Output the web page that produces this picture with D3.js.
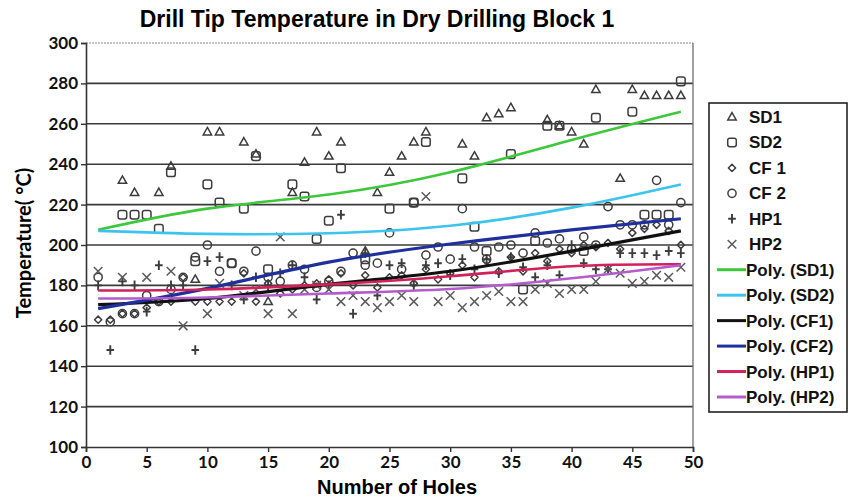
<!DOCTYPE html>
<html><head><meta charset="utf-8">
<script src="https://cdn.jsdelivr.net/npm/d3@7"></script>
<style>body{margin:0;background:#fff}svg{display:block}</style>
</head><body><svg id="c" width="849" height="499"></svg>
<script>
const holes = d3.range(1, 50);
const SD1 = [null,null,232,226,null,226,239,null,183,256,256,null,251,245,172,null,226,241,256,244,251,null,197,226,236,244,251,256,null,null,250,244,263,265,268,null,null,262,259,256,250,277,null,233,277,274,274,274,274];
const SD2 = [null,null,215,215,215,208,236,null,192,230,221,191,218,244,188,null,230,224,203,212,238,null,193,null,218,null,221,251,null,null,233,209,197,null,245,178,202,259,259,null,197,263,null,null,266,215,215,215,281];
const CF1 = [163,163,166,166,169,172,172,184,172,172,172,172,186,172,181,176,178,180,181,183,186,180,185,179,184,185,181,188,183,186,190,184,192,187,194,187,196,192,198,196,200,199,201,198,206,208,210,207,200];
const CF2 = [184,162,166,166,175,172,178,184,194,200,187,191,187,197,184,182,190,188,179,182,187,196,190,191,206,188,221,195,199,193,218,199,193,199,200,196,206,201,203,198,204,200,219,210,210,210,232,210,221];
const HP1 = [180,148,182,180,167,190,180,180,148,192,194,180,173,184,180,186,190,184,173,180,215,166,196,175,190,191,180,190,191,185,193,188,193,186,194,189,184,190,185,200,191,188,188,196,196,196,195,197,196];
const HP2 = [187,null,184,null,184,null,187,160,null,166,181,null,175,178,166,204,166,178,180,178,172,175,172,169,172,175,172,224,172,175,169,172,175,177,172,172,178,181,176,178,178,182,188,186,181,182,185,184,189];
const trendX = [1, 10, 20, 30, 40, 49];
const trendSD1 = [207.5, 218, 225, 236, 252, 266];
const trendSD2 = [207, 205.5, 205.8, 209.5, 218.5, 230];
const trendCF1 = [170.5, 173.5, 180.5, 187, 197, 207];
const trendCF2 = [168.5, 178.5, 191.5, 200.5, 207.5, 213];
const trendHP1 = [177.5, 178, 180.5, 184.5, 189.5, 190.5];
const trendHP2 = [173.5, 174, 176, 178.2, 183.5, 190];
const legendLabels = ["SD1","SD2","CF 1","CF 2","HP1","HP2"];
const trendLabels = ["Poly. (SD1)","Poly. (SD2)","Poly. (CF1)","Poly. (CF2)","Poly. (HP1)","Poly. (HP2)"];
const yTicks = [100,120,140,160,180,200,220,240,260,280,300];
const xTicks = [0,5,10,15,20,25,30,35,40,45,50];

const svg = d3.select("#c");
const x = d3.scaleLinear().domain([0,50]).range([86,693]);
const y = d3.scaleLinear().domain([100,300]).range([447,43]);

const seriesData = [SD1,SD2,CF1,CF2,HP1,HP2];
const trendData = [trendSD1,trendSD2,trendCF1,trendCF2,trendHP1,trendHP2];
const trendColors = ["#3cc83a","#3cc4ee","#111111","#1f2f9c","#d2205a","#b45ccc"];
const shapes = ["tri","sq","dia","circ","plus","x"];

// gridlines
svg.append("g").selectAll("line").data(yTicks.filter(t=>t>100)).join("line")
  .attr("x1",x(0)).attr("x2",x(50)).attr("y1",d=>y(d)).attr("y2",d=>y(d))
  .attr("stroke",d=>d===300?"#888":"#3a3a3a").attr("stroke-width",d=>d===300?1.2:1.6)
  .attr("stroke-dasharray",d=>d===300?"2,1":null);
svg.append("line").attr("x1",x(50)).attr("x2",x(50)).attr("y1",y(300)).attr("y2",y(100))
  .attr("stroke","#777").attr("stroke-width",1.4);

// axes
const yAxis = svg.append("g").attr("transform",`translate(${x(0)},0)`)
  .call(d3.axisLeft(y).tickValues(yTicks).tickSize(5).tickPadding(3));
const xAxis = svg.append("g").attr("transform",`translate(0,${y(100)})`)
  .call(d3.axisBottom(x).tickValues(xTicks).tickSize(5).tickPadding(4));
[yAxis,xAxis].forEach(a=>{
  a.select(".domain").attr("stroke","#333").attr("stroke-width",1.6);
  a.selectAll(".tick line").attr("stroke","#333").attr("stroke-width",1.4);
  a.selectAll("text").attr("font-family","Lato, 'Open Sans', sans-serif").attr("font-weight","bold")
   .attr("font-size",17).attr("fill","#111");
});

function drawMarker(g, shape, cx, cy) {
  let el;
  if (shape==="tri") el = g.append("path").attr("d",`M${cx},${cy-4.4}L${cx+4.2},${cy+3}L${cx-4.2},${cy+3}Z`);
  else if (shape==="sq") el = g.append("rect").attr("x",cx-4.3).attr("y",cy-4.3).attr("width",8.6).attr("height",8.6).attr("rx",2.2);
  else if (shape==="dia") el = g.append("path").attr("d",`M${cx},${cy-3.6}L${cx+3.6},${cy}L${cx},${cy+3.6}L${cx-3.6},${cy}Z`).attr("stroke-linejoin","round");
  else if (shape==="circ") el = g.append("circle").attr("cx",cx).attr("cy",cy).attr("r",4.1);
  else if (shape==="plus") el = g.append("path").attr("d",`M${cx-3.8},${cy}H${cx+3.8}M${cx},${cy-4.8}V${cy+4.8}`);
  else el = g.append("path").attr("d",`M${cx-4.3},${cy-4.3}L${cx+4.3},${cy+4.3}M${cx-4.3},${cy+4.3}L${cx+4.3},${cy-4.3}`);
  el.attr("stroke", shape==="x"?"#5a5a5a":"#3c3c3c").attr("fill","none")
    .attr("stroke-width", shape==="plus"?1.9:1.5);
}
const mg = svg.append("g");
seriesData.forEach((arr,i)=>{
  holes.forEach((h,j)=>{
    const v = arr[j];
    if (v==null) return;
    drawMarker(mg, shapes[i], x(h), y(v));
  });
});

const line = d3.line().x(d=>x(d[0])).y(d=>y(d[1])).curve(d3.curveNatural);
trendData.forEach((t,i)=>{
  svg.append("path").datum(trendX.map((xx,k)=>[xx,t[k]]))
    .attr("d",line).attr("fill","none").attr("stroke",trendColors[i])
    .attr("stroke-width", i===2||i===3?3.2:2.6);
});

svg.append("text").attr("x",377).attr("y",27).attr("text-anchor","middle")
  .attr("font-family","'Liberation Sans', Arial, sans-serif").attr("font-weight","bold").attr("font-size",23)
  .text("Drill Tip Temperature in Dry Drilling Block 1");
svg.append("text").attr("x",397).attr("y",494).attr("text-anchor","middle")
  .attr("font-family","'Liberation Sans', Arial, sans-serif").attr("font-weight","bold").attr("font-size",20)
  .text("Number of Holes");
svg.append("text").attr("transform","translate(31,243) rotate(-90)").attr("text-anchor","middle")
  .attr("font-family","Lato, 'Open Sans', sans-serif").attr("font-weight","bold").attr("font-size",20)
  .text("Temperature( °C)");

const lg = svg.append("g");
lg.append("rect").attr("x",709).attr("y",103).attr("width",138).attr("height",309)
  .attr("fill","#fff").attr("stroke","#222").attr("stroke-width",1.6);
const ly = d3.scaleLinear().domain([0,11]).range([117,397]);
legendLabels.forEach((lab,i)=>{
  drawMarker(lg, shapes[i], 732, ly(i));
  lg.append("text").attr("x",749).attr("y",ly(i)+6).attr("font-family","'Liberation Sans', Arial, sans-serif")
    .attr("font-weight","bold").attr("font-size",17).attr("fill","#111").text(lab);
});
trendLabels.forEach((lab,i)=>{
  const yy = ly(i+6);
  lg.append("line").attr("x1",717).attr("x2",746).attr("y1",yy).attr("y2",yy)
    .attr("stroke",trendColors[i]).attr("stroke-width",3);
  lg.append("text").attr("x",746).attr("y",yy+6).attr("font-family","'Liberation Sans', Arial, sans-serif")
    .attr("font-weight","bold").attr("font-size",17).attr("fill","#111").text(lab);
});
</script></body></html>
